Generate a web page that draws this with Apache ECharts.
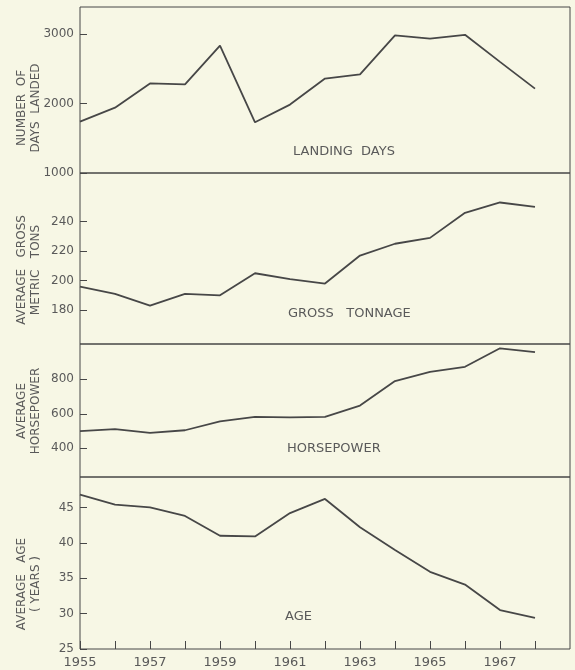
<!DOCTYPE html>
<html>
<head>
<meta charset="utf-8">
<script src="https://cdn.jsdelivr.net/npm/echarts@6/dist/echarts.min.js"></script>
<style>
  html, body { margin: 0; padding: 0; background: #f7f7e5; }
  #main { width: 575px; height: 670px; }
</style>
</head>
<body>
<div id="main"></div>
<script>
// data
var years = [1955, 1956, 1957, 1958, 1959, 1960, 1961, 1962, 1963, 1964, 1965, 1966, 1967, 1968];
var landingDays = [1740, 1940, 2290, 2275, 2835, 1730, 1985, 2360, 2420, 2980, 2935, 2990, 2600, 2215];
var grossTons = [196, 191, 183, 191, 190, 205, 201, 198, 217, 225, 229, 246, 253, 250];
var horsepower = [500, 511, 490, 505, 557, 583, 580, 583, 648, 790, 844, 873, 980, 958];
var avgAge = [46.8, 45.4, 45.0, 43.8, 41.0, 40.9, 44.2, 46.2, 42.2, 39.0, 35.9, 34.1, 30.5, 29.4];

var yearLabels = [1955, 1957, 1959, 1961, 1963, 1965, 1967];
var daysTicks = [1000, 2000, 3000];
var tonsTicks = [180, 200, 220, 240];
var hpTicks = [400, 600, 800];
var ageTicks = [25, 30, 35, 40, 45];

var ink = '#474747', txt = '#5a5a5a';
var font = 'DejaVu Sans';

var chart = echarts.init(document.getElementById('main'));

// panels: top / height in px
var panels = [
    { top: 7, height: 166, min: 1000, max: 3390, ticks: daysTicks, data: landingDays },
    { top: 173, height: 171, min: 157, max: 273, ticks: tonsTicks, data: grossTons },
    { top: 344, height: 133, min: 234, max: 1005, ticks: hpTicks, data: horsepower },
    { top: 477, height: 172, min: 25, max: 49.3, ticks: ageTicks, data: avgAge }
];

function pairs(vals) {
    return years.map(function (y, i) { return [y, vals[i]]; });
}
function plain(v) { return String(v); }

var grids = [], xAxes = [], yAxes = [], series = [];
panels.forEach(function (p, i) {
    var last = i === panels.length - 1;
    grids.push({
        left: 80, width: 490, top: p.top, height: p.height,
        show: true, borderColor: ink, borderWidth: 1, backgroundColor: 'transparent'
    });
    xAxes.push({
        type: 'value', gridIndex: i, min: 1955, max: 1969,
        axisLine: { show: false },
        splitLine: { show: false },
        axisTick: { show: last, inside: true, length: 8, lineStyle: { color: ink },
            customValues: years },
        axisLabel: { show: last, color: txt, fontFamily: font, fontSize: 13, margin: 7,
            customValues: yearLabels, formatter: plain }
    });
    yAxes.push({
        type: 'value', gridIndex: i, min: p.min, max: p.max,
        axisLine: { show: false },
        splitLine: { show: false },
        axisTick: { show: true, inside: true, length: 7, lineStyle: { color: ink },
            customValues: p.ticks },
        axisLabel: { color: txt, fontFamily: font, fontSize: 12, margin: 6,
            customValues: p.ticks, formatter: plain }
    });
    series.push({
        type: 'line', xAxisIndex: i, yAxisIndex: i,
        data: pairs(p.data),
        symbol: 'none', silent: true,
        lineStyle: { color: ink, width: 1.8 }
    });
});

function vname(text, x, y) {
    return {
        type: 'text', x: x, y: y, rotation: Math.PI / 2,
        style: { text: text, fill: txt, font: '12px "' + font + '"',
            align: 'center', verticalAlign: 'middle', lineHeight: 14 }
    };
}
function plabel(text, x, y) {
    return {
        type: 'text', x: x, y: y,
        style: { text: text, fill: txt, font: '13px "' + font + '"',
            align: 'left', verticalAlign: 'middle' }
    };
}

chart.setOption({
    backgroundColor: '#f7f7e5',
    animation: false,
    grid: grids,
    xAxis: xAxes,
    yAxis: yAxes,
    series: series,
    graphic: [
        vname('NUMBER  OF\nDAYS  LANDED', 29, 108),
        vname('AVERAGE   GROSS\nMETRIC   TONS', 29, 270),
        vname('AVERAGE\nHORSEPOWER', 29, 411),
        vname('AVERAGE   AGE\n( YEARS )', 29, 584),
        plabel('LANDING  DAYS', 293, 152),
        plabel('GROSS   TONNAGE', 288, 314),
        plabel('HORSEPOWER', 287, 449),
        plabel('AGE', 285, 617)
    ]
});
</script>
</body>
</html>
